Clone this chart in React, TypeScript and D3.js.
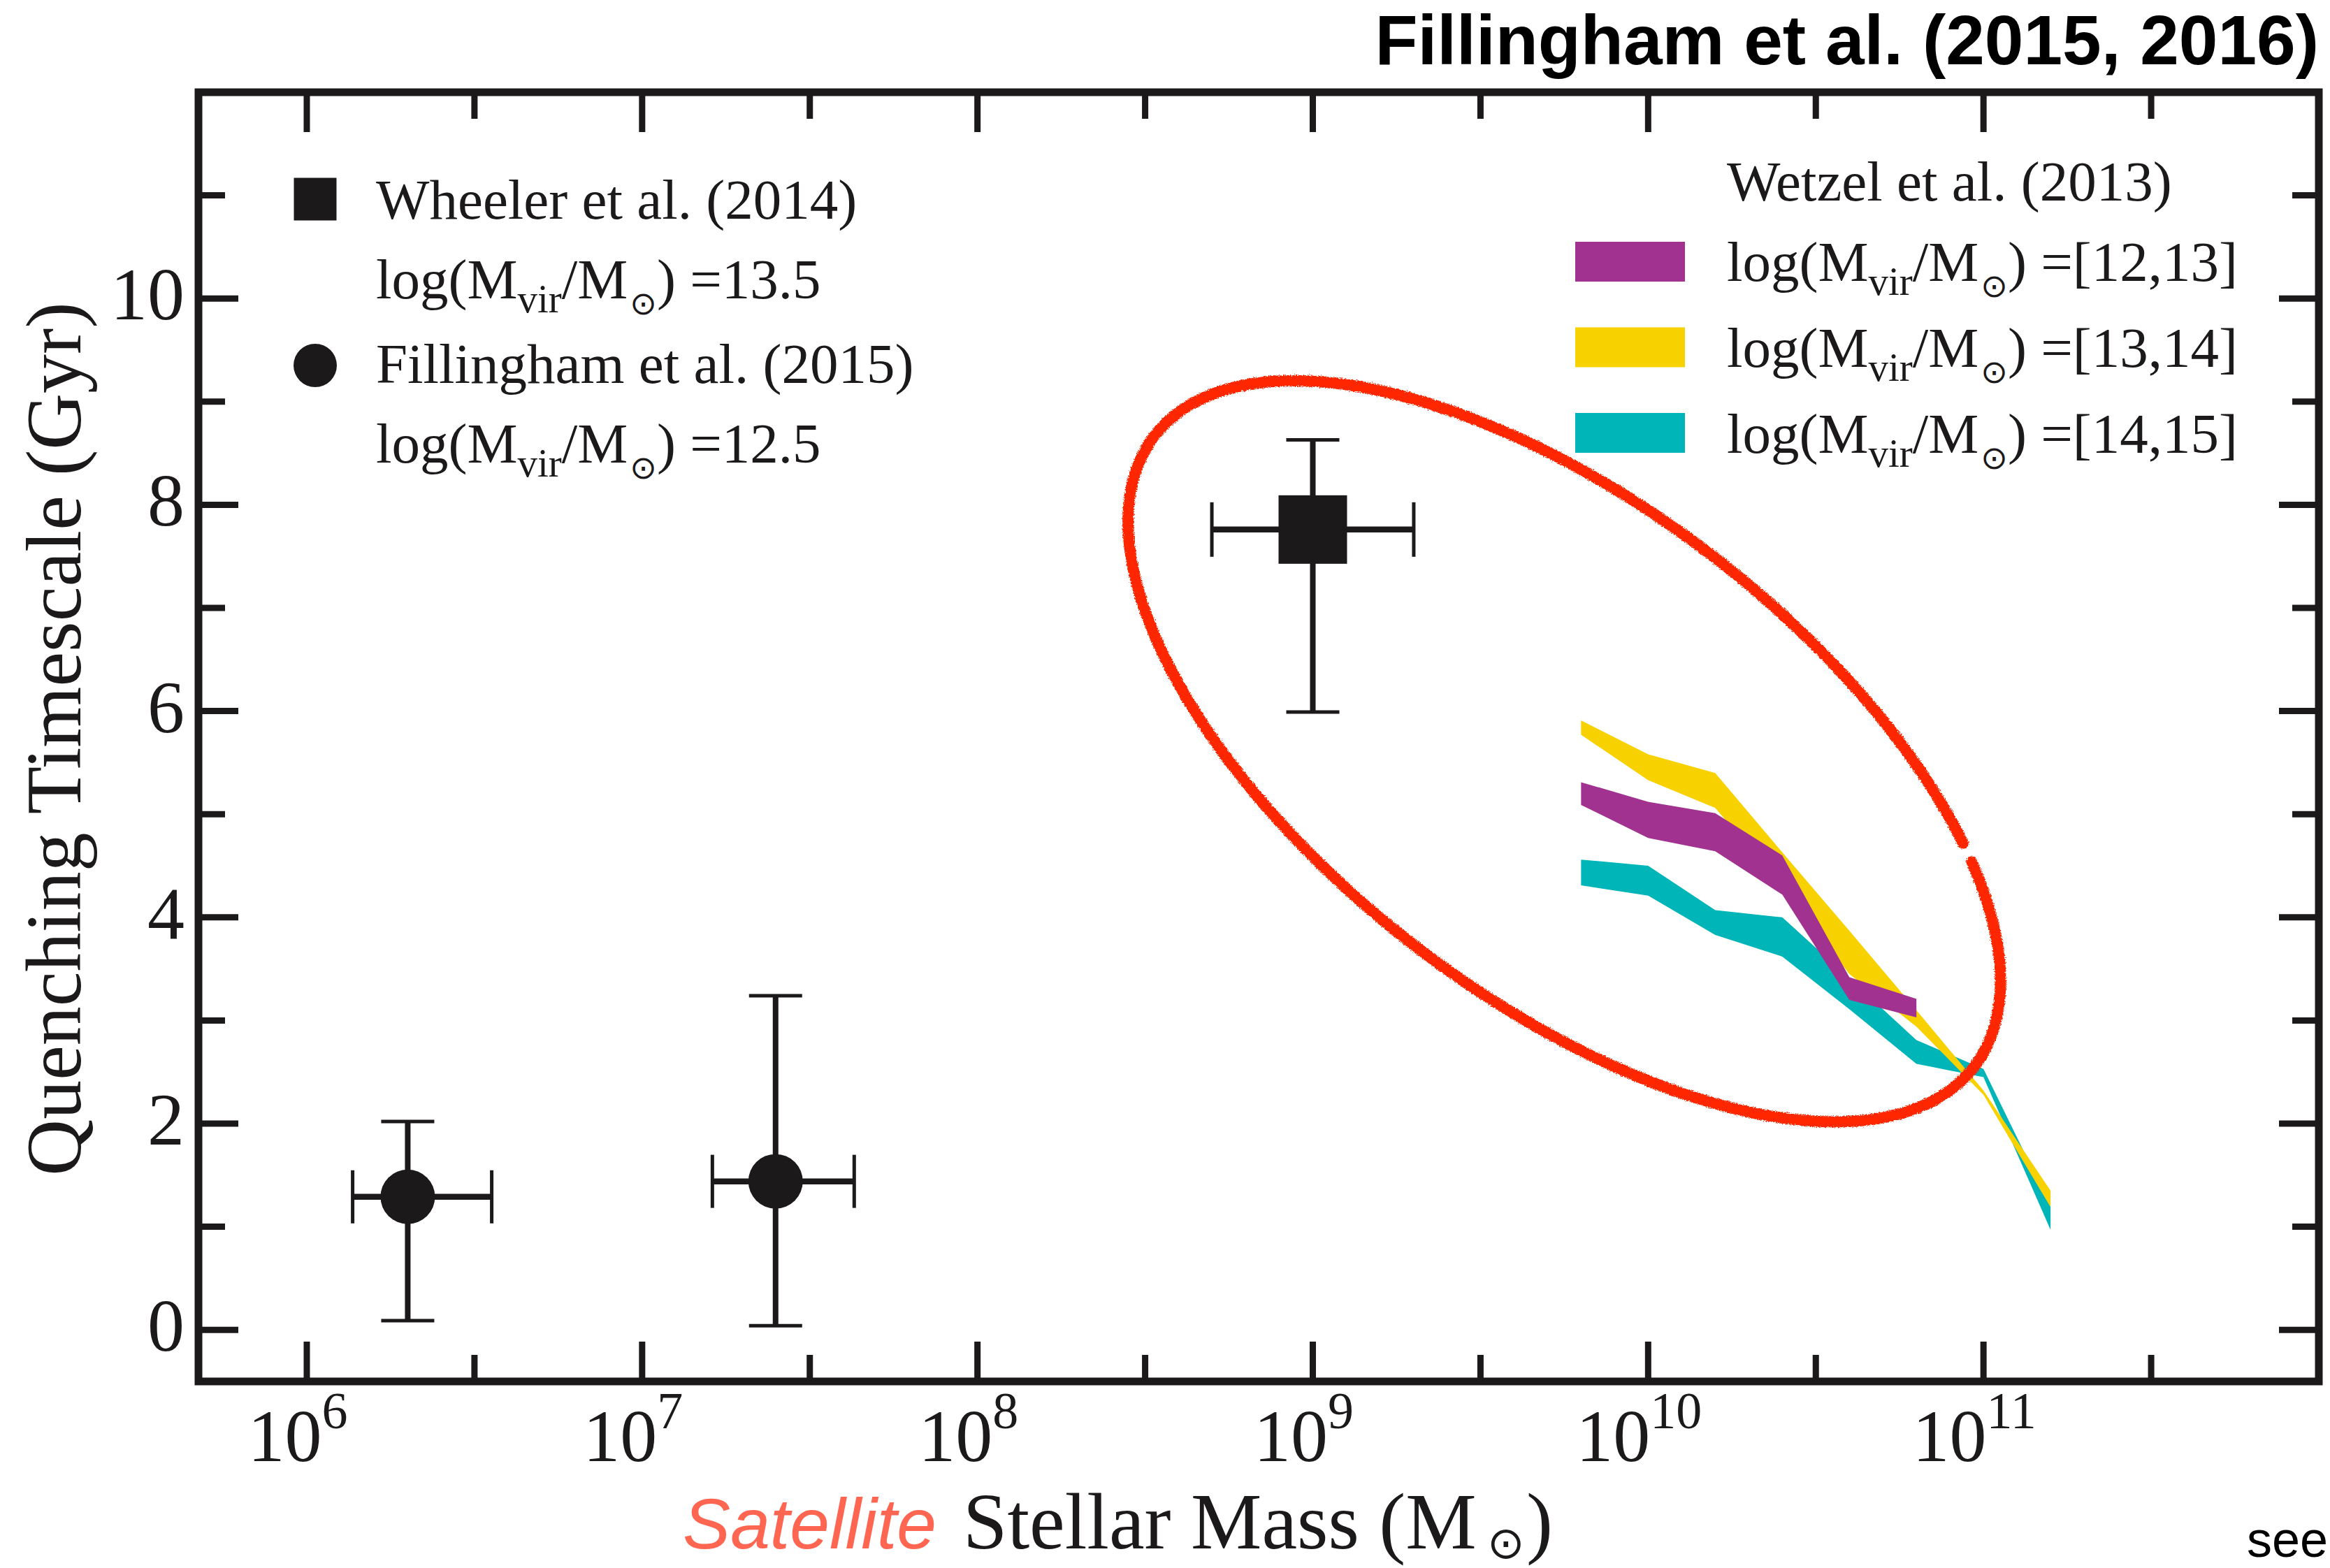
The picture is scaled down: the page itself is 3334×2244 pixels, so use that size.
import React from "react";
import * as d3 from "d3";

const W = 3334;
const H = 2244;

// ---------- axes ----------
const xDomainLog = [5.677, 12];
const yDomain = [-0.5, 12];
const xMajorTicks = [6, 7, 8, 9, 10, 11];
const xMinorTicks = [6.5, 7.5, 8.5, 9.5, 10.5, 11.5];
const yMajorTicks = [0, 2, 4, 6, 8, 10];
const yMinorTicks = [1, 3, 5, 7, 9, 11];

// ---------- Wheeler et al. (2014) ----------
const wheelerMass = [1.0e9];
const wheelerMassLo = [5.0e8];
const wheelerMassHi = [2.0e9];
const wheelerTau = [7.76];
const wheelerTauLo = [5.99];
const wheelerTauHi = [8.63];

// ---------- Fillingham et al. (2015) ----------
const fillMass = [2.0e6, 2.5e7];
const fillMassLo = [1.37e6, 1.62e7];
const fillMassHi = [3.56e6, 4.29e7];
const fillTau = [1.29, 1.44];
const fillTauLo = [0.09, 0.04];
const fillTauHi = [2.02, 3.24];

// ---------- Wetzel et al. (2013) bands ----------
const bandLogMass = [9.8, 10.0, 10.2, 10.4, 10.6, 10.8, 11.0, 11.2];
const wetzel1213Lo = [5.09, 4.77, 4.64, 4.22, 3.2, 3.03];
const wetzel1213Hi = [5.31, 5.12, 5.01, 4.6, 3.42, 3.21];
const wetzel1314Lo = [5.77, 5.33, 5.06, 4.3, 3.45, 2.94, 2.28, 1.19];
const wetzel1314Hi = [5.91, 5.58, 5.4, 4.63, 3.87, 3.1, 2.32, 1.35];
const wetzel1415Lo = [4.31, 4.21, 3.83, 3.62, 3.11, 2.58, 2.45, 0.97];
const wetzel1415Hi = [4.56, 4.5, 4.07, 4.0, 3.41, 2.81, 2.53, 1.2];

const bandLabels = ["[12,13]", "[13,14]", "[14,15]"];
const bandColors = ["#A1328F", "#F8D100", "#00B5B8"];

// annotation ellipse (centre in data units)
const ellipseCenterLogMass = 9.75;
const ellipseCenterTau = 5.61;

const INK = "#1C191A";
const SERIF = "'Liberation Serif', 'Times New Roman', serif";
const SANS = "'Liberation Sans', Arial, Helvetica, sans-serif";
const SYM = "'DejaVu Sans', sans-serif";

const L = 284, R = 3318, T = 132, B = 1977;

export default function App() {
  const x = d3.scaleLog().domain([10 ** xDomainLog[0], 10 ** xDomainLog[1]]).range([L, R]);
  const y = d3.scaleLinear().domain(yDomain).range([B, T]);

  const makeBand = (lo: number[], hi: number[]) => {
    const pts = lo.map((v, i) => ({ m: 10 ** bandLogMass[i], lo: v, hi: hi[i] }));
    return d3
      .area<any>()
      .x((d) => x(d.m))
      .y0((d) => y(d.lo))
      .y1((d) => y(d.hi))
      .curve(d3.curveLinear)(pts) as string;
  };

  const bands = [
    { lo: wetzel1415Lo, hi: wetzel1415Hi, color: bandColors[2] },
    { lo: wetzel1314Lo, hi: wetzel1314Hi, color: bandColors[1] },
    { lo: wetzel1213Lo, hi: wetzel1213Hi, color: bandColors[0] },
  ];

  // ellipse annotation
  const cx = x(10 ** ellipseCenterLogMass);
  const cy = y(ellipseCenterTau);
  const ea = 740, eb = 351, rot = (37.6 * Math.PI) / 180;
  const tStart = (-41 * Math.PI) / 180;
  const ellPts = d3.range(0, 357.5, 0.5).map((deg) => {
    const t = tStart + (deg * Math.PI) / 180;
    const px = ea * Math.cos(t), py = eb * Math.sin(t);
    return [cx + px * Math.cos(rot) - py * Math.sin(rot), cy + px * Math.sin(rot) + py * Math.cos(rot)] as [number, number];
  });
  const ellPath = d3.line()(ellPts) as string;

  const tickW = 9;
  const majLen = 57, minLen = 38;

  const errBar = (
    key: string,
    m: number, mLo: number, mHi: number,
    t: number, tLo: number, tHi: number,
    vCapHalf: number, hCapHalf: number
  ) => (
    <g key={key} stroke={INK} fill="none">
      <line x1={x(m)} x2={x(m)} y1={y(tLo)} y2={y(tHi)} strokeWidth={8} />
      <line x1={x(mLo)} x2={x(mHi)} y1={y(t)} y2={y(t)} strokeWidth={8.5} />
      <line x1={x(m) - vCapHalf} x2={x(m) + vCapHalf} y1={y(tLo)} y2={y(tLo)} strokeWidth={5} />
      <line x1={x(m) - vCapHalf} x2={x(m) + vCapHalf} y1={y(tHi)} y2={y(tHi)} strokeWidth={5} />
      <line x1={x(mLo)} x2={x(mLo)} y1={y(t) - hCapHalf} y2={y(t) + hCapHalf} strokeWidth={5} />
      <line x1={x(mHi)} x2={x(mHi)} y1={y(t) - hCapHalf} y2={y(t) + hCapHalf} strokeWidth={5} />
    </g>
  );

  const logLabel = (xx: number, yy: number, tail: string, key: string) => (
    <text key={key} x={xx} y={yy} fontFamily={SERIF} fontSize={81} fill={INK}>
      log(M
      <tspan fontSize={57} dy={20}>vir</tspan>
      <tspan dy={-20}>/M</tspan>
      <tspan fontFamily={SYM} fontSize={46} dx={3} dy={23}>{"\u2299"}</tspan>
      <tspan dy={-23}>{") =" + tail}</tspan>
    </text>
  );

  return (
    <svg
      width={W}
      height={H}
      viewBox={`0 0 ${W} ${H}`}
      style={{ position: "absolute", left: 0, top: 0, display: "block", background: "#fff" }}
    >
      <defs>
        <filter id="crayon" x="-5%" y="-5%" width="110%" height="110%">
          <feTurbulence type="fractalNoise" baseFrequency="0.6" numOctaves="2" seed="3" result="n" />
          <feDisplacementMap in="SourceGraphic" in2="n" scale="6" xChannelSelector="R" yChannelSelector="G" />
        </filter>
      </defs>
      <rect x={0} y={0} width={W} height={H} fill="#fff" />

      {/* title */}
      <text x={3318} y={92} textAnchor="end" fontFamily={SANS} fontWeight="bold" fontSize={100} fill="#000">
        Fillingham et al. (2015, 2016)
      </text>

      {/* bands */}
      {bands.map((b, i) => (
        <path key={"band" + i} d={makeBand(b.lo, b.hi)} fill={b.color} />
      ))}

      {/* error bars and markers */}
      {wheelerMass.map((m, i) =>
        errBar("w" + i, m, wheelerMassLo[i], wheelerMassHi[i], wheelerTau[i], wheelerTauLo[i], wheelerTauHi[i], 38, 39)
      )}
      {wheelerMass.map((m, i) => (
        <rect key={"wsq" + i} x={x(m) - 49} y={y(wheelerTau[i]) - 49} width={98} height={98} fill={INK} />
      ))}
      {fillMass.map((m, i) =>
        errBar("f" + i, m, fillMassLo[i], fillMassHi[i], fillTau[i], fillTauLo[i], fillTauHi[i], 38, 38)
      )}
      {fillMass.map((m, i) => (
        <circle key={"fc" + i} cx={x(m)} cy={y(fillTau[i])} r={39} fill={INK} />
      ))}

      {/* frame */}
      <rect x={L} y={T} width={R - L} height={B - T} fill="none" stroke={INK} strokeWidth={11} />

      {/* ticks */}
      <g stroke={INK} strokeWidth={tickW}>
        {xMajorTicks.map((t) => (
          <g key={"xM" + t}>
            <line x1={x(10 ** t)} x2={x(10 ** t)} y1={B} y2={B - majLen} />
            <line x1={x(10 ** t)} x2={x(10 ** t)} y1={T} y2={T + majLen} />
          </g>
        ))}
        {xMinorTicks.map((t) => (
          <g key={"xm" + t}>
            <line x1={x(10 ** t)} x2={x(10 ** t)} y1={B} y2={B - minLen} />
            <line x1={x(10 ** t)} x2={x(10 ** t)} y1={T} y2={T + minLen} />
          </g>
        ))}
        {yMajorTicks.map((t) => (
          <g key={"yM" + t}>
            <line x1={L} x2={L + majLen} y1={y(t)} y2={y(t)} />
            <line x1={R} x2={R - majLen} y1={y(t)} y2={y(t)} />
          </g>
        ))}
        {yMinorTicks.map((t) => (
          <g key={"ym" + t}>
            <line x1={L} x2={L + minLen} y1={y(t)} y2={y(t)} />
            <line x1={R} x2={R - minLen} y1={y(t)} y2={y(t)} />
          </g>
        ))}
      </g>

      {/* x tick labels */}
      {xMajorTicks.map((t) => (
        <text key={"xl" + t} x={x(10 ** t) - 13} y={2091} textAnchor="middle" fontFamily={SERIF} fontSize={106} fill={INK}>
          10
          <tspan fontSize={74} dy={-47}>{String(t)}</tspan>
        </text>
      ))}

      {/* y tick labels */}
      {yMajorTicks.map((t) => (
        <text key={"yl" + t} x={264} y={y(t) + 30} textAnchor="end" fontFamily={SERIF} fontSize={106} fill={INK}>
          {String(t)}
        </text>
      ))}

      {/* axis labels */}
      <text transform={`translate(115, ${(T + B) / 2 + 3}) rotate(-90)`} textAnchor="middle" fontFamily={SERIF} fontSize={112} fill={INK}>
        Quenching Timescale (Gyr)
      </text>
      <text x={1340} y={2216} textAnchor="end" fontFamily={SANS} fontStyle="italic" fontSize={102} fill="#FF6652">
        Satellite
      </text>
      <text x={1378} y={2216} fontFamily={SERIF} fontSize={114} fill={INK}>
        Stellar Mass (M
      </text>
      <text x={2128} y={2230} fontFamily={SYM} fontSize={64} fill={INK}>{"\u2299"}</text>
      <text x={2184} y={2216} fontFamily={SERIF} fontSize={114} fill={INK}>)</text>

      {/* left legend */}
      <rect x={451 - 30.5} y={285 - 30.5} width={61} height={61} fill={INK} />
      <text x={538} y={313} fontFamily={SERIF} fontSize={81} fill={INK}>Wheeler et al. (2014)</text>
      {logLabel(538, 427, "13.5", "ll1")}
      <circle cx={451} cy={523} r={31} fill={INK} />
      <text x={538} y={548} fontFamily={SERIF} fontSize={81} fill={INK}>Fillingham et al. (2015)</text>
      {logLabel(538, 662, "12.5", "ll2")}

      {/* right legend */}
      <text x={2471} y={287} fontFamily={SERIF} fontSize={81} fill={INK}>Wetzel et al. (2013)</text>
      {bandLabels.map((lab, i) => (
        <g key={"rl" + i}>
          <rect x={2254} y={346 + i * 122.5} width={157} height={57} fill={bandColors[i]} />
          {logLabel(2471, 402 + i * 123, lab, "rlt" + i)}
        </g>
      ))}

      {/* red annotation ellipse */}
      <path d={ellPath} fill="none" stroke="#FF2600" strokeWidth={16} strokeLinecap="round" filter="url(#crayon)" />

      {/* cut-off note */}
      <text x={3215} y={2228} fontFamily={SANS} fontSize={72} fill="#000">see</text>
    </svg>
  );
}
